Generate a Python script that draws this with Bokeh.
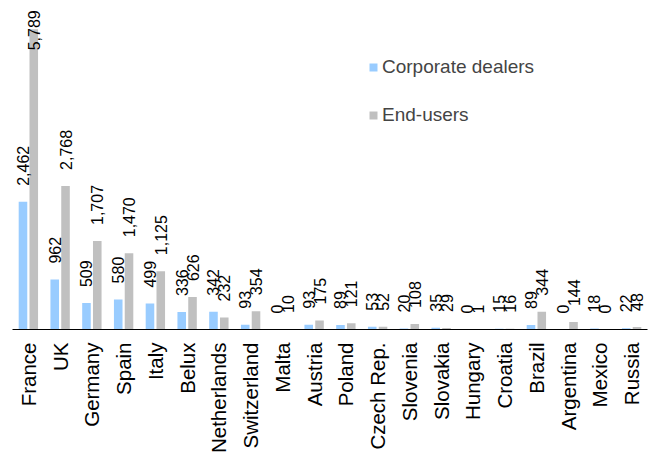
import numpy as np
from math import pi
from bokeh.plotting import figure
from bokeh.models import ColumnDataSource, FactorRange, Legend, LegendItem, Range1d
from bokeh.transform import dodge
from bokeh.core.properties import value
from bokeh.embed import file_html
from bokeh.resources import INLINE

countries = ["France", "UK", "Germany", "Spain", "Italy", "Belux", "Netherlands",
             "Switzerland", "Malta", "Austria", "Poland", "Czech Rep.", "Slovenia",
             "Slovakia", "Hungary", "Croatia", "Brazil", "Argentina", "Mexico", "Russia"]
corporate_dealers = [2462, 962, 509, 580, 499, 336, 342, 93, 0, 93, 89, 53, 20, 35, 0, 15, 89, 0, 18, 22]
end_users = [5789, 2768, 1707, 1470, 1125, 626, 232, 354, 10, 175, 121, 52, 108, 29, 1, 16, 344, 144, 0, 48]

BLUE = "#99CCFF"
GRAY = "#C0C0C0"
FONT = "Liberation Sans"
YMAX = 6344

cd = np.array(corporate_dealers, dtype=float)
eu = np.array(end_users, dtype=float)
cap = 0.8 * YMAX

src = ColumnDataSource(dict(
    country=countries,
    cd=cd, eu=eu,
    cd_lab=["{:,}".format(v) for v in corporate_dealers],
    eu_lab=["{:,}".format(v) for v in end_users],
    cd_y=np.minimum(cd, cap),
    eu_y=np.minimum(eu, cap),
))

p = figure(width=653, height=456, x_range=FactorRange(*countries),
           y_range=Range1d(0, YMAX), output_backend="svg", toolbar_location=None,
           y_axis_location=None, min_border_left=12, min_border_right=6,
           min_border_top=0, min_border_bottom=0)
p.x_range.range_padding = 0
p.outline_line_color = None
p.xgrid.visible = False
p.ygrid.visible = False
p.background_fill_color = "white"

OFF = 0.17
W = 0.27
r1 = p.vbar(x=dodge("country", -OFF, range=p.x_range), top="cd", width=W,
            source=src, fill_color=BLUE, line_color=None)
r2 = p.vbar(x=dodge("country", OFF, range=p.x_range), top="eu", width=W,
            source=src, fill_color=GRAY, line_color=None)

for xo, ycol, tcol in [(-OFF, "cd_y", "cd_lab"), (OFF, "eu_y", "eu_lab")]:
    p.text(x=dodge("country", xo, range=p.x_range), y=ycol, text=tcol, source=src,
           angle=pi / 2, text_align="left", text_baseline="middle", y_offset=-16,
           text_font=value(FONT), text_font_size="16px", text_color="black")

ax = p.xaxis[0]
ax.major_label_orientation = pi / 2
ax.major_label_text_font = FONT
ax.major_label_text_font_size = "20.5px"
ax.major_label_text_color = "black"
ax.major_tick_line_color = None
ax.minor_tick_line_color = None
ax.major_tick_out = 0
ax.major_tick_in = 0
ax.major_label_standoff = 13
ax.axis_line_color = "black"
ax.axis_line_width = 1

legend = Legend(items=[LegendItem(label="Corporate dealers", renderers=[r1]),
                       LegendItem(label="End-users", renderers=[r2])],
                location=(356, 203), padding=0, margin=0, spacing=26,
                label_height=22, glyph_height=10, glyph_width=10, label_standoff=4,
                label_text_font=FONT, label_text_font_size="19px",
                border_line_color=None, background_fill_alpha=0)
p.add_layout(legend)

open("out.html", "w").write(file_html(p, INLINE))
